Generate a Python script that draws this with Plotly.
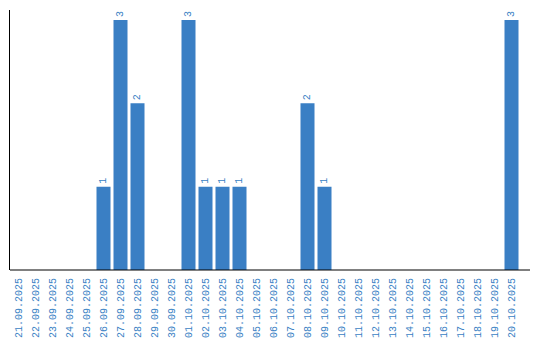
import plotly.graph_objects as go

dates = ["21.09.2025","22.09.2025","23.09.2025","24.09.2025","25.09.2025","26.09.2025",
         "27.09.2025","28.09.2025","29.09.2025","30.09.2025","01.10.2025","02.10.2025",
         "03.10.2025","04.10.2025","05.10.2025","06.10.2025","07.10.2025","08.10.2025",
         "09.10.2025","10.10.2025","11.10.2025","12.10.2025","13.10.2025","14.10.2025",
         "15.10.2025","16.10.2025","17.10.2025","18.10.2025","19.10.2025","20.10.2025"]
counts = [0,0,0,0,0,1,3,2,0,0,3,1,1,1,0,0,0,2,1,0,0,0,0,0,0,0,0,0,0,3]

blue = "#3a7fc4"
labels = [str(v) if v > 0 else "" for v in counts]

fig = go.Figure(go.Bar(
    x=dates, y=counts, marker_color=blue, marker_line_width=0,
    text=labels, textposition="outside", textangle=-90,
    textfont=dict(family="Liberation Mono", size=10, color=blue),
    cliponaxis=False,
))
fig.update_layout(
    width=540, height=340, margin=dict(l=10, r=20, t=10, b=70, autoexpand=False),
    paper_bgcolor="white", plot_bgcolor="white",
    bargap=3/17, showlegend=False,
    xaxis=dict(type="category", tickangle=-90, showgrid=False, ticks="",
               tickfont=dict(family="Liberation Mono", size=10, color=blue),
               ticklabelstandoff=5, automargin=False,
               showline=False, zeroline=False),
    yaxis=dict(range=[0, 3.12], showticklabels=False, showgrid=False, ticks="",
               automargin=False,
               showline=True, linecolor="black", linewidth=1, zeroline=False),
)
fig.add_shape(type="line", xref="paper", yref="paper", x0=0, x1=520/510, y0=0, y1=0,
              line=dict(color="black", width=1))
fig.write_html("out.html")
